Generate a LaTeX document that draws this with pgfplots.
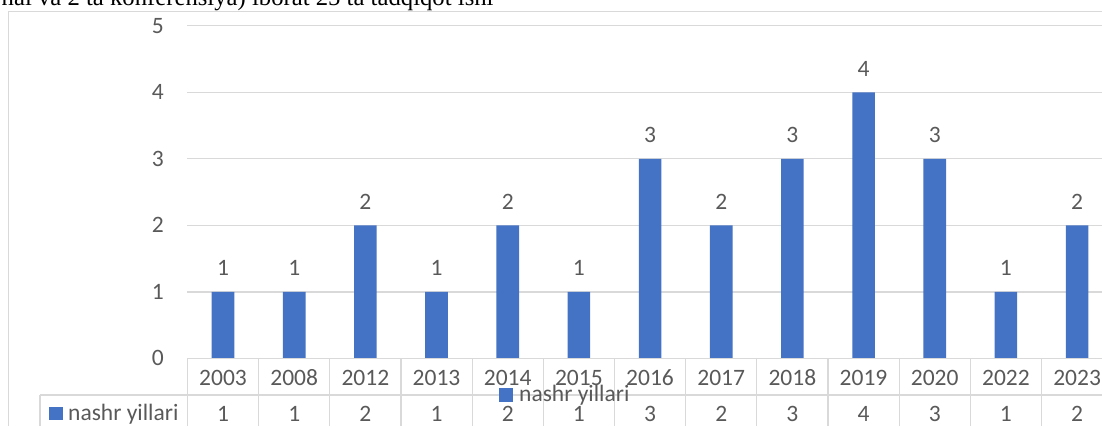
\documentclass[border=0pt]{standalone}
\usepackage{fontspec}
\setmainfont{Carlito}
\newfontfamily\tnr{Liberation Serif}
\usepackage{pgfplots}
\usepackage{pgfplotstable}
\pgfplotsset{compat=1.18}
\definecolor{barblue}{HTML}{4472C4}
\definecolor{txtgray}{HTML}{595959}
\definecolor{linegray}{HTML}{D9D9D9}
\pgfplotstableread{
x year v
0 2003 1
1 2008 1
2 2012 2
3 2013 1
4 2014 2
5 2015 1
6 2016 3
7 2017 2
8 2018 3
9 2019 4
10 2020 3
11 2022 1
12 2023 2
}\datatab
\newcommand\lblfont{\fontsize{23.5}{28}\selectfont}
\begin{document}
\begin{tikzpicture}[x=1pt,y=1pt]
\useasboundingbox (0,0) rectangle (1102,426);
\clip (0,0) rectangle (1102,426);
\node[anchor=base west, inner sep=0pt, font=\tnr\fontsize{24.7}{29}\selectfont] at (1.5,420) {nal va 2 ta konferensiya) iborat 25 ta tadqiqot ishi};
\draw[linegray, line width=1.1pt] (8.3,0) -- (8.3,414.3) -- (1110,414.3);
\begin{axis}[
  at={(187.45pt,67.6pt)}, anchor=south west,
  scale only axis, width=925.2pt, height=332.6pt,
  xmin=-0.5, xmax=12.5, ymin=0, ymax=5,
  axis line style={draw=none}, tick style={draw=none},
  ytick={0,1,2,3,4,5},
  xtick={0,...,12}, xticklabels from table={\datatab}{year},
  ymajorgrids, grid style={linegray, line width=1.3pt},
  tick label style={font=\lblfont, text=txtgray, inner sep=0pt},
  yticklabel style={anchor=east, xshift=-23.5pt},
  xticklabel style={anchor=base, yshift=-26.6pt},
  /pgf/number format/assume math mode=true,
  clip=false,
]
\addplot[ybar, bar width=22.6pt, fill=barblue, draw=none,
  nodes near coords,
  every node near coord/.append style={anchor=base, yshift=16pt, inner sep=0pt, font=\lblfont, text=txtgray}]
  table[x=x, y=v]{\datatab};
\addplot[draw=none, mark=none, nodes near coords, point meta=explicit,
  every node near coord/.append style={anchor=base, inner sep=0pt, font=\lblfont, text=txtgray}]
  table[x=x, y expr=-0.9486, meta=v]{\datatab};
\end{axis}
\foreach \k in {0,...,13} \draw[linegray, line width=1.2pt] ({187.45+\k*71.17},67.3) -- ({187.45+\k*71.17},0);
\draw[linegray, line width=1.2pt] (187.45,67.3) -- (1110,67.3);
\draw[linegray, line width=1.2pt] (40,31) -- (1110,31);
\draw[linegray, line width=1.2pt] (40,31) -- (40,0);
\fill[barblue] (49,6) rectangle (63,19.5);
\node[anchor=base west, inner sep=0pt, font=\lblfont, text=txtgray] at (68,6) {nashr yillari};
\fill[barblue] (499.3,24.3) rectangle (513.3,37.7);
\node[anchor=base west, inner sep=0pt, font=\lblfont, text=txtgray] at (519,24.3) {nashr yillari};
\end{tikzpicture}
\end{document}
